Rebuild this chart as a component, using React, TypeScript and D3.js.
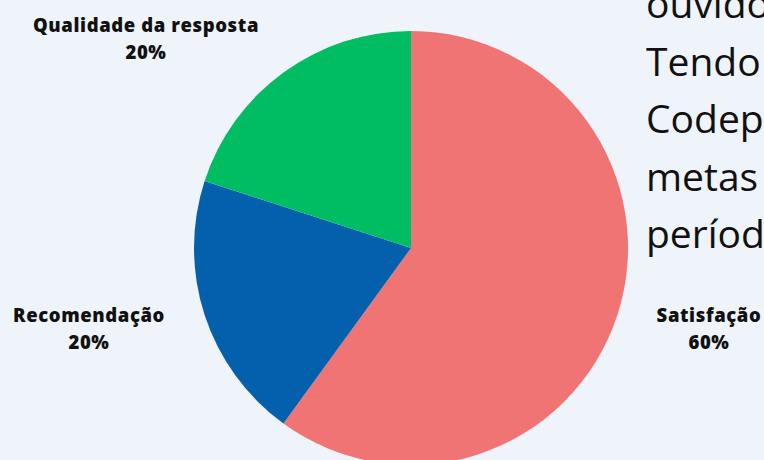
import React, { useRef, useEffect } from 'react';
import * as d3 from 'd3';

const categories = ['Satisfação', 'Recomendação', 'Qualidade da resposta'];
const values = [60, 20, 20];
const colors = ['#f07474', '#0460ad', '#00bd62'];
const sideText = ['ouvidoria', 'Tendo em', 'Codeplan', 'metas', 'período'];

const width = 764;
const height = 460;
const cx = 411;
const cy = 248;
const radius = 217;

// label anchor points (center of the two-line label), per category
const labelPos: [number, number][] = [
    [709, 322],
    [89, 322],
    [146, 32],
];

const App: React.FC = () => {
    const ref = useRef<SVGSVGElement>(null);

    useEffect(() => {
        if (!ref.current) return;
        const svg = d3.select(ref.current);
        svg.selectAll('*').remove();

        svg.append('rect')
            .attr('width', width)
            .attr('height', height)
            .attr('fill', '#eff4fb');

        const data = categories.map((c, i) => ({ name: c, value: values[i] }));
        const pie = d3.pie<{ name: string; value: number }>()
            .sort(null)
            .value(d => d.value);
        const arc = d3.arc<d3.PieArcDatum<{ name: string; value: number }>>()
            .innerRadius(0)
            .outerRadius(radius);

        const g = svg.append('g').attr('transform', `translate(${cx},${cy})`);
        g.selectAll('path')
            .data(pie(data))
            .enter()
            .append('path')
            .attr('d', arc)
            .attr('fill', (_, i) => colors[i]);

        const total = d3.sum(values);
        const labels = svg.selectAll('.lbl')
            .data(data)
            .enter()
            .append('text')
            .attr('class', 'lbl')
            .attr('text-anchor', 'middle')
            .attr('font-family', '"Open Sans", sans-serif')
            .attr('font-weight', 800)
            .attr('font-size', '18.5px')
            .attr('letter-spacing', '0.6px')
            .attr('fill', '#111');
        labels.append('tspan')
            .attr('x', (_, i) => labelPos[i][0])
            .attr('y', (_, i) => labelPos[i][1])
            .text(d => d.name);
        labels.append('tspan')
            .attr('x', (_, i) => labelPos[i][0])
            .attr('y', (_, i) => labelPos[i][1] + 27)
            .text(d => `${Math.round((d.value / total) * 100)}%`);

        svg.selectAll('.side')
            .data(sideText)
            .enter()
            .append('text')
            .attr('class', 'side')
            .attr('x', 646)
            .attr('y', (_, i) => 18 + i * 57.5)
            .attr('font-family', '"Open Sans", sans-serif')
            .attr('font-size', '39px')
            .attr('fill', '#111')
            .text(d => d);
    }, []);

    return (
        <svg
            ref={ref}
            width={width}
            height={height}
            style={{ position: 'absolute', left: 0, top: 0, display: 'block' }}
        />
    );
};

export default App;
